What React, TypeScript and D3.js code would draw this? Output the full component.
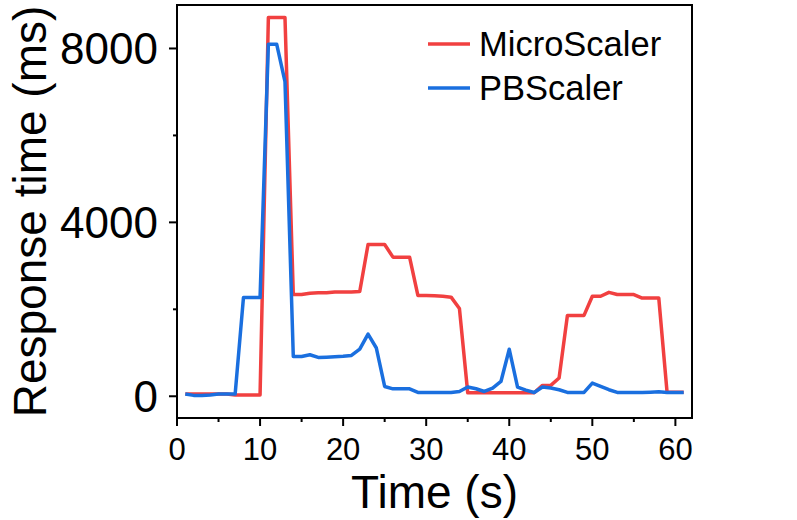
import React, { useEffect, useRef } from "react";
import * as d3 from "d3";

// time in seconds
const times = [
  1, 2, 3, 4, 5, 6, 7, 8, 9, 10, 11, 12, 13, 14, 15, 16, 17, 18, 19, 20, 21,
  22, 23, 24, 25, 26, 27, 28, 29, 30, 31, 32, 33, 34, 35, 36, 37, 38, 39, 40,
  41, 42, 43, 44, 45, 46, 47, 48, 49, 50, 51, 52, 53, 54, 55, 56, 57, 58, 59,
  60, 61,
];

// response time (ms)
const microScaler = [
  50, 50, 50, 50, 50, 50, 30, 30, 30, 30, 8710, 8710, 8710, 2340, 2340, 2370,
  2380, 2380, 2400, 2400, 2400, 2410, 3490, 3490, 3490, 3200, 3200, 3200, 2320,
  2320, 2310, 2300, 2280, 2020, 80, 80, 80, 80, 80, 80, 80, 80, 80, 250, 250,
  420, 1860, 1860, 1860, 2300, 2300, 2390, 2340, 2340, 2340, 2260, 2260, 2260,
  90, 90, 90,
];

const pbScaler = [
  50, 20, 20, 30, 50, 50, 50, 2270, 2270, 2270, 8100, 8100, 7240, 915, 915, 955,
  893, 900, 910, 920, 940, 1085, 1430, 1110, 225, 170, 170, 170, 88, 88, 88, 88,
  88, 110, 212, 172, 110, 188, 340, 1080, 212, 140, 88, 212, 188, 150, 88, 88,
  88, 304, 226, 150, 88, 88, 88, 88, 95, 105, 88, 88, 88,
];

const seriesNames = ["MicroScaler", "PBScaler"];
const seriesColors = ["#F14040", "#1A6FDF"];

const xTicks = [0, 10, 20, 30, 40, 50, 60];
const xMinorTicks = [5, 15, 25, 35, 45, 55];
const yTicks = [0, 4000, 8000];
const yMinorTicks = [2000, 6000];

const FONT = "'Liberation Sans', Arial, Helvetica, sans-serif";

const App = () => {
  const svgRef = useRef<SVGSVGElement>(null);

  useEffect(() => {
    const svg = d3.select(svgRef.current);
    svg.selectAll("*").remove();

    const left = 177;
    const right = 692;
    const top = 5;
    const bottom = 418;

    const xScale = d3.scaleLinear().domain([0, 62]).range([left, right]);
    const yScale = d3.scaleLinear().domain([-500, 9000]).range([bottom, top]);

    const series = [microScaler, pbScaler];

    // lines
    series.forEach((vals, i) => {
      const line = d3
        .line<number>()
        .x((_, j) => xScale(times[j]))
        .y((d) => yScale(d));
      svg
        .append("path")
        .datum(vals)
        .attr("d", line)
        .attr("fill", "none")
        .attr("stroke", seriesColors[i])
        .attr("stroke-width", 3.5)
        .attr("stroke-linejoin", "round");
    });

    // frame
    svg
      .append("rect")
      .attr("x", left)
      .attr("y", top)
      .attr("width", right - left)
      .attr("height", bottom - top)
      .attr("fill", "none")
      .attr("stroke", "#000")
      .attr("stroke-width", 2);

    // x axis
    const xAxis = svg.append("g").attr("transform", `translate(0, ${bottom})`);
    xAxis
      .selectAll("line.major")
      .data(xTicks)
      .join("line")
      .attr("x1", (d) => xScale(d))
      .attr("x2", (d) => xScale(d))
      .attr("y1", 0)
      .attr("y2", 8)
      .attr("stroke", "#000")
      .attr("stroke-width", 2);
    xAxis
      .selectAll("line.minor")
      .data(xMinorTicks)
      .join("line")
      .attr("x1", (d) => xScale(d))
      .attr("x2", (d) => xScale(d))
      .attr("y1", 0)
      .attr("y2", 4)
      .attr("stroke", "#000")
      .attr("stroke-width", 2);
    xAxis
      .selectAll("text")
      .data(xTicks)
      .join("text")
      .attr("x", (d) => xScale(d))
      .attr("y", 42)
      .attr("text-anchor", "middle")
      .style("font-family", FONT)
      .style("font-size", "31px")
      .text((d) => d);

    // y axis
    const yAxis = svg.append("g").attr("transform", `translate(${left}, 0)`);
    yAxis
      .selectAll("line.major")
      .data(yTicks)
      .join("line")
      .attr("x1", 0)
      .attr("x2", -8)
      .attr("y1", (d) => yScale(d))
      .attr("y2", (d) => yScale(d))
      .attr("stroke", "#000")
      .attr("stroke-width", 2);
    yAxis
      .selectAll("line.minor")
      .data(yMinorTicks)
      .join("line")
      .attr("x1", 0)
      .attr("x2", -4)
      .attr("y1", (d) => yScale(d))
      .attr("y2", (d) => yScale(d))
      .attr("stroke", "#000")
      .attr("stroke-width", 2);
    yAxis
      .selectAll("text")
      .data(yTicks)
      .join("text")
      .attr("x", -19)
      .attr("y", (d) => yScale(d))
      .attr("dy", "0.36em")
      .attr("text-anchor", "end")
      .style("font-family", FONT)
      .style("font-size", "44px")
      .text((d) => d);

    // axis titles
    svg
      .append("text")
      .attr("x", (left + right) / 2)
      .attr("y", 508)
      .attr("text-anchor", "middle")
      .style("font-family", FONT)
      .style("font-size", "46px")
      .text("Time (s)");

    svg
      .append("text")
      .attr("transform", `translate(46, ${(top + bottom) / 2}) rotate(-90)`)
      .attr("text-anchor", "middle")
      .style("font-family", FONT)
      .style("font-size", "46px")
      .text("Response time (ms)");

    // legend
    seriesNames.forEach((name, i) => {
      const y = 44 + i * 44;
      svg
        .append("line")
        .attr("x1", 428)
        .attr("x2", 470)
        .attr("y1", y)
        .attr("y2", y)
        .attr("stroke", seriesColors[i])
        .attr("stroke-width", 3.5);
      svg
        .append("text")
        .attr("x", 479)
        .attr("y", y + 12)
        .style("font-family", FONT)
        .style("font-size", "34.5px")
        .text(name);
    });
  }, []);

  return (
    <svg
      ref={svgRef}
      width={797}
      height={520}
      style={{ position: "absolute", left: 0, top: 0, background: "#fff" }}
    ></svg>
  );
};

export default App;
